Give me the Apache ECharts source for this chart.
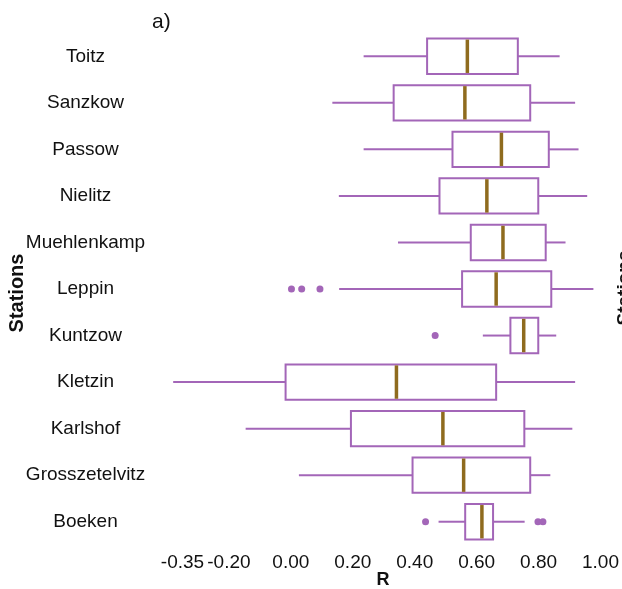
<!DOCTYPE html>
<html>
<head>
<meta charset="utf-8">
<script src="https://cdn.jsdelivr.net/npm/echarts@6/dist/echarts.min.js"></script>
<style>
  html, body { margin: 0; padding: 0; background: #fff; }
  #chart { width: 622px; height: 589px; }
</style>
</head>
<body>
<div id="chart"></div>
<script>
// Stations, listed from top to bottom
const stations = ['Toitz', 'Sanzkow', 'Passow', 'Nielitz', 'Muehlenkamp', 'Leppin',
  'Kuntzow', 'Kletzin', 'Karlshof', 'Grosszetelvitz', 'Boeken'];

// Five-number summaries of R per station
const whiskerLow  = [0.235, 0.134, 0.235, 0.155, 0.346, 0.156, 0.620, -0.380, -0.146, 0.026, 0.477];
const q1          = [0.440, 0.332, 0.522, 0.480, 0.581, 0.553, 0.709, -0.017, 0.194, 0.393, 0.563];
const median      = [0.570, 0.562, 0.680, 0.633, 0.685, 0.663, 0.752, 0.341, 0.491, 0.558, 0.617];
const q3          = [0.733, 0.773, 0.833, 0.799, 0.823, 0.841, 0.799, 0.663, 0.754, 0.773, 0.653];
const whiskerHigh = [0.868, 0.918, 0.929, 0.957, 0.887, 0.977, 0.857, 0.918, 0.909, 0.838, 0.755];

// Outlying values: [R, station]
const outliers = [
  [0.002, 'Leppin'], [0.035, 'Leppin'], [0.094, 'Leppin'],
  [0.466, 'Kuntzow'],
  [0.435, 'Boeken'], [0.798, 'Boeken'], [0.814, 'Boeken']
];

// Tick labels on the R axis
const xTicks = [-0.35, -0.20, 0.00, 0.20, 0.40, 0.60, 0.80, 1.00];

const PURPLE = '#a366b8';
const GOLD = '#8f6b1e';
const FONT = '"Liberation Sans", Arial, Helvetica, sans-serif';

const boxData = stations.map((s, i) => [i, whiskerLow[i], q1[i], median[i], q3[i], whiskerHigh[i]]);

function renderBox(params, api) {
  const idx = api.value(0);
  const pLow = api.coord([api.value(1), idx]);
  const pQ1 = api.coord([api.value(2), idx]);
  const pMed = api.coord([api.value(3), idx]);
  const pQ3 = api.coord([api.value(4), idx]);
  const pHigh = api.coord([api.value(5), idx]);
  const band = api.size([0, 1])[1];
  const h = band * 0.76;
  const cy = pMed[1];
  const lineStyle = { stroke: PURPLE, lineWidth: 2, fill: null };
  return {
    type: 'group',
    children: [
      { type: 'line', shape: { x1: pLow[0], y1: cy, x2: pQ1[0], y2: cy }, style: lineStyle },
      { type: 'line', shape: { x1: pQ3[0], y1: cy, x2: pHigh[0], y2: cy }, style: lineStyle },
      { type: 'rect', shape: { x: pQ1[0], y: cy - h / 2, width: pQ3[0] - pQ1[0], height: h },
        style: { fill: '#fff', stroke: PURPLE, lineWidth: 2 } },
      { type: 'line', shape: { x1: pMed[0], y1: cy - h / 2 + 1, x2: pMed[0], y2: cy + h / 2 - 1 },
        style: { stroke: GOLD, lineWidth: 3.5 } }
    ]
  };
}

const chart = echarts.init(document.getElementById('chart'), null, { renderer: 'canvas' });
chart.setOption({
  backgroundColor: '#fff',
  animation: false,
  grid: { left: 151.5, right: 5.5, top: 33, bottom: 44 },
  xAxis: {
    type: 'value',
    min: -0.45,
    max: 1.05,
    axisLine: { show: false },
    axisTick: { show: false },
    splitLine: { show: false },
    axisLabel: {
      customValues: xTicks,
      formatter: v => v.toFixed(2),
      fontFamily: FONT,
      fontSize: 19,
      color: '#111',
      margin: 8
    }
  },
  yAxis: {
    type: 'category',
    data: stations,
    inverse: true,
    axisLine: { show: false },
    axisTick: { show: false },
    splitLine: { show: false },
    axisLabel: {
      fontFamily: FONT,
      fontSize: 19,
      color: '#111',
      align: 'center',
      margin: 66
    }
  },
  graphic: [
    { type: 'text', left: 152, top: 12,
      style: { text: 'a)', fontFamily: FONT, fontSize: 21, fill: '#111' } },
    { type: 'text', x: 17, y: 293, rotation: Math.PI / 2,
      style: { text: 'Stations', fontFamily: FONT, fontSize: 20, fontWeight: 'bold', fill: '#111',
        align: 'center', verticalAlign: 'middle' } },
    { type: 'text', x: 383, y: 580,
      style: { text: 'R', fontFamily: FONT, fontSize: 18, fontWeight: 'bold', fill: '#111',
        align: 'center', verticalAlign: 'middle' } },
    { type: 'text', x: 625, y: 288, rotation: Math.PI / 2,
      style: { text: 'Stations', fontFamily: FONT, fontSize: 19, fontWeight: 'bold', fill: '#111',
        align: 'center', verticalAlign: 'middle' } }
  ],
  series: [
    {
      type: 'custom',
      renderItem: renderBox,
      data: boxData,
      encode: { x: [1, 2, 3, 4, 5], y: 0 },
      z: 2
    },
    {
      type: 'scatter',
      data: outliers,
      symbol: 'circle',
      symbolSize: 7,
      itemStyle: { color: PURPLE, opacity: 1 },
      z: 3
    }
  ]
});
</script>
</body>
</html>
